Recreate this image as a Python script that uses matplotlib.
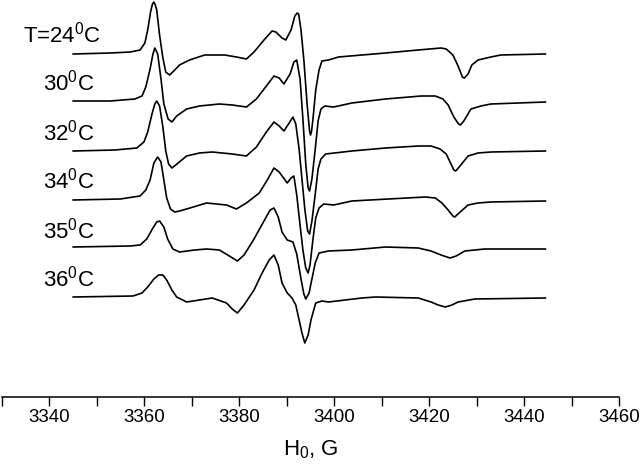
import matplotlib
matplotlib.use('Agg')
import matplotlib.pyplot as plt
from matplotlib.ticker import MultipleLocator

plt.rcParams['font.family'] = ['Liberation Sans', 'DejaVu Sans']
plt.rcParams['mathtext.default'] = 'regular'

# EPR spectra: field (G) and signal amplitude (arb. units)
field_24 = [3345.0, 3352.8, 3357.0, 3359.1, 3360.1, 3360.7, 3361.3, 3361.7, 3362.0, 3362.3,
            3362.6, 3363.2, 3363.9, 3364.5, 3365.3, 3366.2, 3367.4, 3369.5, 3372.7, 3376.9,
            3379.4, 3381.5, 3383.1, 3385.2, 3386.9, 3387.7, 3389.0, 3389.8, 3390.9, 3391.7,
            3392.2, 3392.5, 3393.0, 3393.6, 3394.3, 3394.8, 3395.0, 3395.2, 3395.5, 3396.1,
            3396.8, 3397.4, 3398.8, 3400.9, 3410.8, 3417.7, 3422.5, 3423.6, 3425.0, 3426.1,
            3427.0, 3427.4, 3428.2, 3429.0, 3430.3, 3433.0, 3435.1, 3444.5]
amp_24 = [-1, 0, 1, 3, 10, 23, 41, 49, 51, 48,
          43, 18, -5, -19, -22, -18, -12, -7, -2, -2,
          -4, -6, 1, 13, 22, 21, 15, 13, 23, 37,
          40, 39, 23, -7, -52, -78, -82, -79, -67, -37,
          -17, -8, -7, -4, 0, 3, 5, 4, -2, -13,
          -24, -25, -21, -12, -7, -4, -2, -1]

field_30 = [3345.0, 3352.8, 3358.0, 3359.5, 3360.3, 3361.2, 3361.8, 3362.2, 3362.8, 3363.5,
            3364.1, 3365.0, 3365.8, 3366.8, 3368.9, 3371.6, 3375.8, 3378.5, 3381.5, 3383.6,
            3385.7, 3387.3, 3388.4, 3389.4, 3390.7, 3391.5, 3392.1, 3392.8, 3393.4, 3394.0,
            3394.5, 3394.8, 3395.3, 3396.0, 3396.6, 3397.2, 3398.0, 3399.9, 3403.7, 3410.8,
            3418.3, 3421.3, 3422.9, 3424.0, 3425.2, 3426.2, 3426.6, 3427.3, 3428.8, 3430.9,
            3433.0, 3444.5]
amp_30 = [1, 1, 3, 6, 15, 33, 48, 54, 48, 23,
          -2, -17, -20, -14, -7, -4, -2, -3, -5, 3,
          16, 26, 24, 18, 28, 40, 42, 23, -17, -62,
          -86, -89, -77, -47, -19, -7, -4, -5, -1, 3,
          6, 6, 3, -3, -15, -22, -23, -19, -7, -4,
          -2, 0]

field_32 = [3345.0, 3353.8, 3358.4, 3359.9, 3360.7, 3361.6, 3362.2, 3362.6, 3363.2, 3363.9,
            3364.5, 3365.1, 3365.8, 3366.6, 3368.9, 3371.6, 3374.3, 3378.5, 3381.5, 3383.6,
            3385.7, 3387.3, 3388.4, 3389.4, 3390.5, 3391.3, 3391.9, 3392.6, 3393.2, 3393.8,
            3394.4, 3394.8, 3395.3, 3396.0, 3396.6, 3397.2, 3398.2, 3403.7, 3410.8, 3417.7,
            3420.4, 3422.3, 3423.6, 3424.6, 3425.2, 3425.6, 3426.5, 3428.2, 3430.3, 3433.0,
            3444.5]
amp_32 = [0, 1, 3, 9, 19, 37, 47, 50, 45, 24,
          0, -13, -17, -14, -5, -2, -1, -3, -5, 4,
          19, 29, 25, 20, 28, 34, 27, 2, -28, -58,
          -80, -83, -70, -43, -18, -8, -3, 0, 3, 5,
          5, 2, -3, -13, -19, -20, -15, -5, -2, -1,
          0]

field_34 = [3345.0, 3354.9, 3359.1, 3360.3, 3361.2, 3362.0, 3362.8, 3363.5, 3364.1, 3364.7,
            3365.5, 3366.4, 3367.4, 3368.9, 3373.1, 3377.3, 3379.4, 3381.5, 3384.2, 3385.9,
            3387.3, 3388.4, 3390.1, 3390.9, 3391.5, 3392.1, 3392.8, 3393.4, 3394.0, 3394.5,
            3394.9, 3395.5, 3396.1, 3396.8, 3397.8, 3399.9, 3403.7, 3411.4, 3419.2, 3421.3,
            3422.7, 3424.0, 3425.0, 3425.4, 3426.3, 3428.2, 3430.3, 3433.0, 3444.5]
amp_34 = [0, 1, 4, 10, 20, 37, 43, 38, 20, 2,
          -9, -12, -11, -9, -3, -5, -9, -3, 7, 20,
          32, 28, 17, 22, 24, 5, -25, -50, -68, -73,
          -65, -40, -18, -8, -4, -5, -1, 1, 3, 2,
          -3, -10, -16, -17, -13, -5, -3, -2, -1]

field_35 = [3345.0, 3357.0, 3359.1, 3360.5, 3361.8, 3362.6, 3363.2, 3364.1, 3364.9, 3366.0,
            3367.4, 3370.6, 3373.1, 3375.8, 3377.9, 3379.6, 3381.0, 3383.1, 3385.2, 3386.5,
            3387.3, 3388.2, 3389.0, 3390.1, 3391.3, 3392.1, 3393.0, 3393.6, 3394.0, 3394.7,
            3395.3, 3396.0, 3396.8, 3398.8, 3403.7, 3410.8, 3417.7, 3420.4, 3422.5, 3424.4,
            3425.7, 3427.5, 3431.7, 3444.5]
amp_35 = [2, 3, 4, 10, 21, 27, 28, 22, 10, 0,
          -3, -1, 0, -1, -7, -12, -6, 10, 28, 39,
          41, 32, 17, 9, 7, -5, -30, -45, -50, -44,
          -30, -14, -4, -2, -1, 2, 1, -2, -6, -9,
          -7, -2, 0, 0]

field_36 = [3345.0, 3357.6, 3359.5, 3360.7, 3362.0, 3363.0, 3363.9, 3364.7, 3365.8, 3366.8,
            3368.9, 3371.6, 3374.3, 3377.3, 3378.5, 3379.6, 3381.0, 3383.1, 3384.8, 3386.3,
            3387.3, 3388.2, 3389.0, 3390.1, 3391.1, 3391.9, 3392.6, 3393.2, 3393.8, 3394.5,
            3395.1, 3396.1, 3397.4, 3398.8, 3405.8, 3408.7, 3417.7, 3420.4, 3421.9, 3423.4,
            3424.8, 3426.1, 3429.6, 3444.5]
amp_36 = [1, 2, 5, 11, 19, 23, 23, 18, 8, 1,
          -4, -2, 0, -5, -11, -15, -7, 8, 25, 38,
          43, 33, 15, 5, 0, -7, -22, -35, -45, -37,
          -22, -5, -3, -4, 0, 1, 0, -4, -7, -9,
          -7, -4, -1, 0]

fields = [field_24, field_30, field_32, field_34, field_35, field_36]
amps = [amp_24, amp_30, amp_32, amp_34, amp_35, amp_36]
labels = ['T=24$^0$C', '30$^0$C', '32$^0$C', '34$^0$C', '35$^0$C', '36$^0$C']

fig = plt.figure(figsize=(6.4, 4.7), dpi=100)
ax = fig.add_axes([2 / 640, 73 / 470, 617 / 640, 397 / 470])

top = 344
step = 49
for i, (h, a, lab) in enumerate(zip(fields, amps, labels)):
    off = top - i * step
    ax.plot(h, [v + off for v in a], color='black', linewidth=1.2)
    lx = 3350.9 if i == 0 else 3349.4
    ax.text(lx, off + 11, lab, ha='right', va='baseline', fontsize=16)

ax.set_xlim(3330, 3460)
ax.set_ylim(0, 397)
ax.xaxis.set_major_locator(MultipleLocator(20))
ax.xaxis.set_minor_locator(MultipleLocator(10))
ax.tick_params(axis='x', which='both', direction='out', length=6.5, width=1.0,
               labelsize=13.5, pad=2)
ax.set_yticks([])
for s in ['top', 'left', 'right']:
    ax.spines[s].set_visible(False)
ax.spines['bottom'].set_linewidth(1.1)
ax.set_xlabel('H$_0$, G', fontsize=16, labelpad=9)

fig.savefig('out.png', dpi=100)
